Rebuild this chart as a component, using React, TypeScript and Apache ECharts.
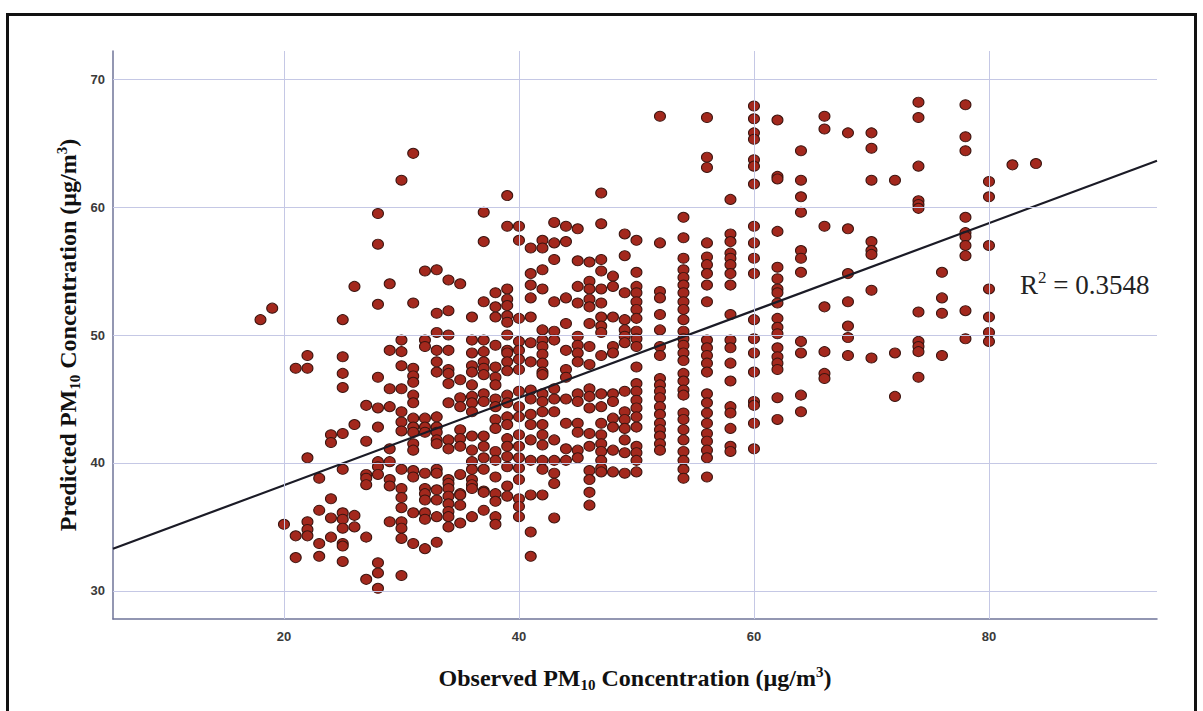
import React, { useEffect, useRef } from "react";
import * as echarts from "echarts";

const X_TICKS = [20, 40, 60, 80];
const Y_TICKS = [30, 40, 50, 60, 70];
const X_RANGE = [5.45, 94.3];
const Y_RANGE = [27.8, 72.2];
const FIT_INTERCEPT = 31.43;
const FIT_SLOPE = 0.3414;
const R_SQUARED = "0.3548";

// [observed PM10, predicted PM10 values]
const cols18to31: [number, number[]][] = [
  [18, [51.2]],
  [19, [52.1]],
  [20, [35.2]],
  [21, [47.4, 34.3, 32.6]],
  [22, [48.4, 47.4, 40.4, 35.4, 34.8, 34.3]],
  [23, [38.8, 36.3, 33.7, 32.7]],
  [24, [42.2, 41.6, 37.2, 35.7, 34.2]],
  [25, [51.2, 48.3, 47.0, 45.9, 42.3, 39.5, 36.1, 35.6, 34.9, 33.7, 33.5, 32.3]],
  [26, [53.8, 43.0, 35.9, 35.0]],
  [27, [44.5, 41.7, 39.1, 38.8, 38.3, 34.2, 30.9]],
  [28, [59.5, 57.1, 52.4, 46.7, 44.3, 42.8, 40.1, 39.7, 39.1, 32.2, 31.4, 30.2]],
  [29, [54.0, 48.8, 45.8, 44.4, 41.1, 40.1, 38.7, 38.2, 35.4]],
  [30, [62.1, 49.6, 48.7, 47.6, 45.8, 44.0, 43.2, 42.5, 39.5, 38.0, 37.3, 36.5, 35.4, 34.9, 34.1, 31.2]],
  [31, [64.2, 52.5, 47.4, 46.8, 46.3, 45.3, 44.7, 43.5, 42.8, 42.4, 41.5, 41.0, 39.4, 38.9, 36.1, 33.7]],
];

const cols32to40: [number, number[]][] = [
  [32, [55.0, 49.6, 49.1, 43.5, 42.8, 42.4, 39.2, 38.0, 37.6, 37.1, 36.1, 35.6, 33.3]],
  [33, [55.1, 51.7, 50.2, 48.8, 47.9, 47.1, 43.6, 42.8, 42.4, 41.8, 41.5, 39.5, 39.2, 37.9, 37.1, 35.8, 33.8]],
  [34, [54.3, 51.9, 50.0, 48.8, 47.3, 47.0, 46.2, 44.7, 41.8, 41.1, 38.7, 38.4, 38.0, 37.4, 36.8, 36.2, 35.8, 35.0]],
  [35, [54.0, 46.5, 45.1, 44.4, 42.6, 41.9, 41.3, 39.1, 37.6, 37.5, 36.7, 35.3]],
  [36, [51.4, 49.6, 48.6, 47.6, 47.1, 46.1, 45.2, 44.7, 44.0, 42.1, 41.0, 40.1, 39.5, 38.7, 38.3, 38.0, 35.8]],
  [37, [59.6, 57.3, 52.6, 49.6, 48.7, 47.9, 47.4, 46.9, 45.4, 44.8, 42.1, 41.3, 40.4, 39.5, 37.8, 37.7, 36.3]],
  [38, [53.3, 52.2, 51.4, 49.2, 47.5, 46.7, 46.1, 45.0, 44.4, 43.4, 42.7, 40.9, 40.2, 38.9, 37.6, 37.0, 35.8, 35.2]],
  [39, [60.9, 58.5, 53.6, 52.8, 52.3, 51.5, 51.0, 50.0, 48.8, 48.6, 47.9, 47.2, 45.3, 44.7, 43.6, 43.0, 41.9, 41.3, 40.5, 39.7, 38.2, 37.4]],
  [40, [58.5, 57.4, 51.3, 49.5, 48.8, 48.1, 47.3, 45.6, 44.4, 43.6, 42.2, 41.3, 40.4, 39.6, 38.7, 37.2, 36.6, 35.8]],
];

const cols41to49: [number, number[]][] = [
  [41, [56.8, 54.8, 53.9, 52.9, 51.4, 49.4, 47.9, 45.7, 45.0, 43.8, 43.0, 41.8, 40.2, 37.5, 34.6, 32.7]],
  [42, [57.4, 56.8, 55.1, 53.6, 50.4, 49.6, 49.1, 48.5, 47.8, 47.1, 46.9, 45.4, 44.8, 44.0, 43.0, 42.2, 41.4, 40.2, 39.5, 37.5]],
  [43, [58.8, 57.2, 55.9, 52.6, 50.3, 49.6, 45.8, 45.0, 44.0, 41.8, 40.2, 39.2, 38.4, 35.7]],
  [44, [58.5, 57.3, 52.9, 50.9, 48.8, 47.3, 46.7, 45.0, 43.1, 41.1, 40.2]],
  [45, [58.3, 55.8, 53.8, 52.5, 49.9, 49.2, 48.6, 47.9, 45.4, 44.8, 43.1, 42.4, 41.0, 40.4]],
  [46, [55.7, 54.2, 53.6, 52.8, 52.2, 50.9, 49.1, 47.7, 45.8, 45.2, 44.3, 42.3, 41.3, 39.4, 38.7, 37.7, 36.7]],
  [47, [61.1, 58.7, 55.9, 55.0, 53.6, 52.5, 51.4, 50.7, 50.2, 48.4, 45.4, 44.4, 43.1, 42.2, 41.5, 40.9, 40.2, 39.6, 39.3]],
  [48, [54.6, 53.8, 51.4, 49.1, 48.6, 45.4, 44.8, 43.5, 42.8, 41.0, 39.3]],
  [49, [57.9, 56.2, 53.3, 51.2, 50.4, 49.9, 49.4, 45.6, 44.0, 43.4, 42.7, 41.8, 40.8, 39.2]],
];

const cols50to66: [number, number[]][] = [
  [50, [57.4, 54.9, 53.8, 53.3, 52.6, 52.0, 51.3, 50.3, 49.7, 49.1, 47.5, 46.2, 45.6, 44.9, 44.3, 43.6, 42.8, 41.3, 40.8, 40.2, 39.3]],
  [52, [67.1, 57.2, 53.4, 52.9, 51.6, 50.4, 49.1, 48.4, 46.6, 46.1, 45.6, 45.1, 44.4, 43.8, 43.1, 42.6, 42.1, 41.5, 41.0]],
  [54, [59.2, 57.6, 56.0, 55.1, 54.5, 53.9, 53.3, 52.6, 52.0, 51.2, 50.3, 49.7, 49.2, 48.6, 48.0, 47.0, 46.4, 45.7, 45.3, 43.9, 43.4, 42.6, 41.8, 40.9, 40.2, 39.5, 38.8]],
  [56, [67.0, 63.9, 63.1, 57.2, 56.1, 55.5, 54.8, 53.9, 52.6, 49.6, 49.0, 48.4, 47.8, 47.1, 45.4, 44.7, 43.9, 43.1, 42.3, 41.7, 41.0, 40.4, 38.9]],
  [58, [60.6, 57.9, 57.3, 56.4, 56.0, 55.5, 54.8, 53.9, 51.6, 49.6, 49.0, 47.8, 46.4, 44.4, 43.9, 42.7, 41.3, 40.9]],
  [60, [67.9, 66.9, 65.8, 65.3, 63.7, 63.2, 61.8, 58.5, 57.2, 56.0, 54.8, 51.2, 49.7, 48.6, 47.1, 44.8, 44.5, 43.1, 41.1]],
  [62, [66.8, 62.4, 62.2, 58.1, 55.3, 54.4, 53.6, 53.3, 52.5, 51.3, 50.6, 50.1, 49.0, 48.3, 47.8, 47.3, 45.1, 43.4]],
  [64, [64.4, 62.1, 60.8, 59.6, 56.6, 56.0, 54.9, 49.5, 48.6, 45.3, 44.0]],
  [66, [67.1, 66.1, 58.5, 52.2, 48.7, 47.0, 46.6]],
];

const cols68to84: [number, number[]][] = [
  [68, [65.8, 58.3, 54.8, 52.6, 50.7, 49.8, 48.4]],
  [70, [65.8, 64.6, 62.1, 57.3, 56.6, 56.3, 53.5, 48.2]],
  [72, [62.1, 48.6, 45.2]],
  [74, [68.2, 67.0, 63.2, 60.5, 60.2, 59.9, 51.8, 49.5, 49.1, 48.7, 46.7]],
  [76, [54.9, 52.9, 51.7, 48.4]],
  [78, [68.0, 65.5, 64.4, 59.2, 58.0, 57.7, 57.0, 56.2, 51.9, 49.7]],
  [80, [62.0, 60.8, 57.0, 53.6, 51.4, 50.2, 49.5]],
  [82, [63.3]],
  [84, [63.4]],
];

const SERIF = "'Liberation Serif', 'Times New Roman', serif";
const SANS = "'Liberation Sans', Arial, sans-serif";

export default function App() {
  const ref = useRef<HTMLDivElement>(null);

  useEffect(() => {
    document.body.style.margin = "0";
    const chart = echarts.init(ref.current as HTMLDivElement, null, { renderer: "svg" });

    const points: number[][] = [];
    [cols18to31, cols32to40, cols41to49, cols50to66, cols68to84].forEach((group) =>
      group.forEach(([x, ys]) => ys.forEach((y) => points.push([x, y])))
    );
    const fit = X_RANGE.map((x) => [x, FIT_INTERCEPT + FIT_SLOPE * x]);

    const titleRich = {
      sub: { fontSize: 15, lineHeight: 15, verticalAlign: "bottom", fontWeight: "bold", fontFamily: SERIF, fill: "#111" },
      sup: { fontSize: 15, lineHeight: 15, verticalAlign: "top", fontWeight: "bold", fontFamily: SERIF, fill: "#111" },
    };

    chart.setOption({
      animation: false,
      backgroundColor: "#ffffff",
      grid: { left: 113, top: 51, right: 46, bottom: 92, show: false },
      xAxis: {
        type: "value",
        min: X_RANGE[0],
        max: X_RANGE[1],
        splitLine: { show: false },
        axisTick: { show: false },
        axisLine: { show: true, onZero: false, lineStyle: { color: "#6f7499", width: 1.5 } },
        axisLabel: {
          customValues: X_TICKS,
          margin: 11,
          fontSize: 13,
          fontWeight: "bold",
          color: "#3a3a3a",
          fontFamily: SANS,
        },
      },
      yAxis: {
        type: "value",
        min: Y_RANGE[0],
        max: Y_RANGE[1],
        splitLine: { show: false },
        axisTick: { show: false },
        axisLine: { show: true, onZero: false, lineStyle: { color: "#6f7499", width: 1.5 } },
        axisLabel: {
          customValues: Y_TICKS,
          margin: 8,
          fontSize: 13,
          fontWeight: "bold",
          color: "#3a3a3a",
          fontFamily: SANS,
        },
      },
      series: [
        {
          type: "scatter",
          data: [],
          silent: true,
          z: 1,
          markLine: {
            silent: true,
            symbol: ["none", "none"],
            label: { show: false },
            emphasis: { disabled: true },
            lineStyle: { color: "#c5c8e5", width: 1, type: "solid" },
            data: [
              ...X_TICKS.map((v) => ({ xAxis: v })),
              ...Y_TICKS.map((v) => ({ yAxis: v })),
            ],
          },
        },
        {
          type: "scatter",
          data: points,
          symbol: "circle",
          symbolSize: [11, 10],
          silent: true,
          z: 2,
          itemStyle: { color: "#a3281d", borderColor: "#3b1510", borderWidth: 1, opacity: 1 },
        },
        {
          type: "line",
          data: fit,
          symbol: "none",
          silent: true,
          z: 3,
          lineStyle: { color: "#1b1b26", width: 2.2 },
        },
      ],
      graphic: [
        {
          type: "rect",
          shape: { x: 7.5, y: 14.5, width: 1188, height: 760 },
          style: { fill: "none", stroke: "#111", lineWidth: 3 },
          silent: true,
        },
        {
          type: "text",
          x: 635,
          y: 678,
          style: {
            text: "Observed PM{sub|10} Concentration (µg/m{sup|3})",
            fontSize: 24,
            lineHeight: 28,
            fontWeight: "bold",
            fontFamily: SERIF,
            fill: "#111",
            align: "center",
            verticalAlign: "middle",
            rich: titleRich,
          },
          silent: true,
        },
        {
          type: "text",
          x: 68,
          y: 335,
          rotation: Math.PI / 2,
          style: {
            text: "Predicted PM{sub|10} Concentration (µg/m{sup|3})",
            fontSize: 24,
            lineHeight: 28,
            fontWeight: "bold",
            fontFamily: SERIF,
            fill: "#111",
            align: "center",
            verticalAlign: "middle",
            rich: titleRich,
          },
          silent: true,
        },
        {
          type: "text",
          x: 1020,
          y: 285,
          style: {
            text: "R{sup|2} = " + R_SQUARED,
            fontSize: 27,
            lineHeight: 32,
            fontFamily: SERIF,
            fill: "#222",
            align: "left",
            verticalAlign: "middle",
            rich: {
              sup: { fontSize: 17, lineHeight: 17, verticalAlign: "top", fontFamily: SERIF, fill: "#222" },
            },
          },
          silent: true,
        },
      ],
    });

    return () => chart.dispose();
  }, []);

  return <div ref={ref} style={{ width: 1203, height: 711 }} />;
}
